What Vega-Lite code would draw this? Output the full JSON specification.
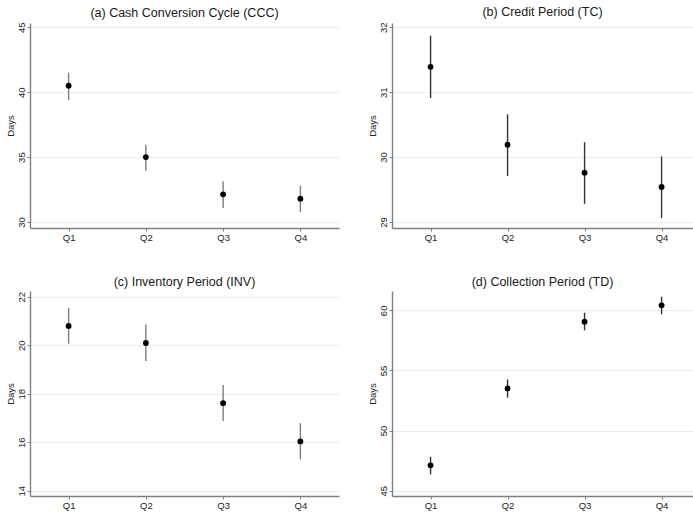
{
  "$schema": "https://vega.github.io/schema/vega-lite/v6.json",
  "background": "white",
  "padding": {"left": 5, "top": 6, "right": 0, "bottom": 5},
  "datasets": {
    "ccc": [
      {"q": "Q1", "mean": 40.5, "lo": 39.4, "hi": 41.5},
      {"q": "Q2", "mean": 35.0, "lo": 33.95, "hi": 35.96},
      {"q": "Q3", "mean": 32.13, "lo": 31.08, "hi": 33.13},
      {"q": "Q4", "mean": 31.8, "lo": 30.77, "hi": 32.8}
    ],
    "tc": [
      {"q": "Q1", "mean": 31.39, "lo": 30.91, "hi": 31.87},
      {"q": "Q2", "mean": 30.19, "lo": 29.71, "hi": 30.66},
      {"q": "Q3", "mean": 29.76, "lo": 29.28, "hi": 30.23},
      {"q": "Q4", "mean": 29.54, "lo": 29.06, "hi": 30.01}
    ],
    "inv": [
      {"q": "Q1", "mean": 20.79, "lo": 20.06, "hi": 21.53},
      {"q": "Q2", "mean": 20.09, "lo": 19.35, "hi": 20.85},
      {"q": "Q3", "mean": 17.61, "lo": 16.87, "hi": 18.36},
      {"q": "Q4", "mean": 16.03, "lo": 15.29, "hi": 16.78}
    ],
    "td": [
      {"q": "Q1", "mean": 47.11, "lo": 46.36, "hi": 47.83},
      {"q": "Q2", "mean": 53.51, "lo": 52.73, "hi": 54.26},
      {"q": "Q3", "mean": 59.06, "lo": 58.34, "hi": 59.81},
      {"q": "Q4", "mean": 60.42, "lo": 59.67, "hi": 61.14}
    ]
  },
  "spacing": 33,
  "vconcat": [
    {
      "spacing": 28,
      "hconcat": [
        {
          "title": "(a) Cash Conversion Cycle (CCC)",
          "width": 309, "height": 205,
          "data": {"name": "ccc"},
          "layer": [
            {"mark": {"type": "rule", "color": "#7f7f7f", "strokeWidth": 1.4},
             "encoding": {
               "x": {"field": "q", "type": "ordinal", "scale": {"type": "point", "padding": 0.5}, "axis": {"title": null}},
               "y": {"field": "lo", "type": "quantitative", "scale": {"domain": [29.54, 45.33], "nice": false, "zero": false}, "axis": {"title": "Days", "values": [30, 35, 40, 45], "format": "d"}},
               "y2": {"field": "hi"}
             }},
            {"mark": {"type": "point", "filled": true, "color": "#000000", "size": 34, "opacity": 1},
             "encoding": {
               "x": {"field": "q", "type": "ordinal"},
               "y": {"field": "mean", "type": "quantitative"}
             }}
          ]
        },
        {
          "title": "(b) Credit Period (TC)",
          "width": 301, "height": 205,
          "data": {"name": "tc"},
          "layer": [
            {"mark": {"type": "rule", "color": "#333333", "strokeWidth": 1.4},
             "encoding": {
               "x": {"field": "q", "type": "ordinal", "scale": {"type": "point", "padding": 0.4545, "align": 0.551}, "axis": {"title": null}},
               "y": {"field": "lo", "type": "quantitative", "scale": {"domain": [28.907, 32.066], "nice": false, "zero": false}, "axis": {"title": "Days", "values": [29, 30, 31, 32], "format": "d"}},
               "y2": {"field": "hi"}
             }},
            {"mark": {"type": "point", "filled": true, "color": "#000000", "size": 34, "opacity": 1},
             "encoding": {
               "x": {"field": "q", "type": "ordinal"},
               "y": {"field": "mean", "type": "quantitative"}
             }}
          ]
        }
      ]
    },
    {
      "spacing": 28,
      "hconcat": [
        {
          "title": "(c) Inventory Period (INV)",
          "width": 309, "height": 205,
          "data": {"name": "inv"},
          "layer": [
            {"mark": {"type": "rule", "color": "#7f7f7f", "strokeWidth": 1.4},
             "encoding": {
               "x": {"field": "q", "type": "ordinal", "scale": {"type": "point", "padding": 0.5}, "axis": {"title": null}},
               "y": {"field": "lo", "type": "quantitative", "scale": {"domain": [13.78, 22.235], "nice": false, "zero": false}, "axis": {"title": "Days", "values": [14, 16, 18, 20, 22], "format": "d"}},
               "y2": {"field": "hi"}
             }},
            {"mark": {"type": "point", "filled": true, "color": "#000000", "size": 34, "opacity": 1},
             "encoding": {
               "x": {"field": "q", "type": "ordinal"},
               "y": {"field": "mean", "type": "quantitative"}
             }}
          ]
        },
        {
          "title": "(d) Collection Period (TD)",
          "width": 301, "height": 205,
          "data": {"name": "td"},
          "layer": [
            {"mark": {"type": "rule", "color": "#333333", "strokeWidth": 1.4},
             "encoding": {
               "x": {"field": "q", "type": "ordinal", "scale": {"type": "point", "padding": 0.4545, "align": 0.551}, "axis": {"title": null}},
               "y": {"field": "lo", "type": "quantitative", "scale": {"domain": [44.56, 61.61], "nice": false, "zero": false}, "axis": {"title": "Days", "values": [45, 50, 55, 60], "format": "d"}},
               "y2": {"field": "hi"}
             }},
            {"mark": {"type": "point", "filled": true, "color": "#000000", "size": 34, "opacity": 1},
             "encoding": {
               "x": {"field": "q", "type": "ordinal"},
               "y": {"field": "mean", "type": "quantitative"}
             }}
          ]
        }
      ]
    }
  ],
  "config": {
    "view": {"stroke": null},
    "font": "Liberation Sans",
    "title": {"fontSize": 12.5, "fontWeight": "normal", "color": "#1a1a1a", "font": "Liberation Sans", "offset": 3, "anchor": "middle"},
    "axis": {
      "domainColor": "#808080", "domainWidth": 1.4,
      "tickColor": "#808080", "tickSize": 3, "tickWidth": 1,
      "labelFont": "Liberation Sans", "labelFontSize": 9.5, "labelColor": "#222222",
      "titleFont": "Liberation Sans", "titleFontSize": 9.5, "titleFontWeight": "normal", "titleColor": "#222222"
    },
    "axisX": {"grid": false, "labelPadding": 1, "labelAngle": 0},
    "axisY": {"grid": true, "gridColor": "#e6eff0", "gridWidth": 1, "labelAngle": -90, "labelAlign": "center", "labelBaseline": "bottom", "labelPadding": 1, "titlePadding": 1}
  }
}
